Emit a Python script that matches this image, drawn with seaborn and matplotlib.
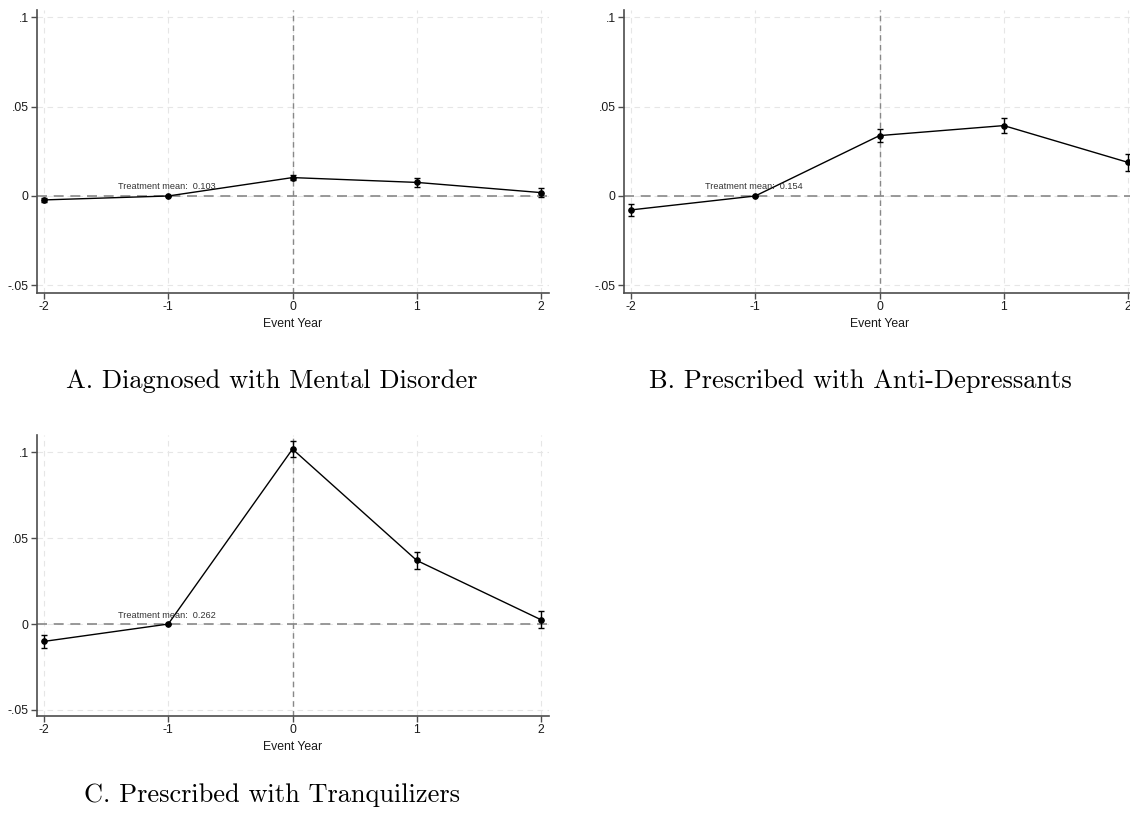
import numpy as np
import pandas as pd
import matplotlib
matplotlib.use("Agg")
import matplotlib.pyplot as plt
import seaborn as sns

# ---- data ----
event_years = [-2, -1, 0, 1, 2]
coef_a = [-0.0022, 0.0, 0.0103, 0.0076, 0.0019]
err_a = [0.0010, 0.0, 0.0015, 0.0023, 0.0025]
coef_b = [-0.0078, 0.0, 0.0338, 0.0394, 0.0188]
err_b = [0.0033, 0.0, 0.0036, 0.0042, 0.0046]
coef_c = [-0.0101, 0.0, 0.1018, 0.0370, 0.0025]
err_c = [0.0040, 0.0, 0.0047, 0.0048, 0.0049]
treat_means = ["0.103", "0.154", "0.262"]
titles = ["A. Diagnosed with Mental Disorder",
          "B. Prescribed with Anti-Depressants",
          "C. Prescribed with Tranquilizers"]
ytick_vals = [-0.05, 0, 0.05, 0.1]
ytick_labels = ["-.05", "0", ".05", ".1"]

sns.set_theme(style="white")
plt.rcParams["font.family"] = ["Liberation Sans", "DejaVu Sans"]

W, H = 1130, 816
fig = plt.figure(figsize=(W / 100, H / 100), dpi=100)

def ax_rect(left, right, top, bottom):
    return [left / W, 1 - bottom / H, (right - left) / W, (bottom - top) / H]

panels = [
    dict(rect=ax_rect(37, 549, 10, 293), coef=coef_a, err=err_a, ylim=(-0.0543, 0.1041),
         mean=treat_means[0], title=titles[0], tx=272, ty=381),
    dict(rect=ax_rect(624, 1136, 10, 293), coef=coef_b, err=err_b, ylim=(-0.0543, 0.1041),
         mean=treat_means[1], title=titles[1], tx=860, ty=381),
    dict(rect=ax_rect(37, 549, 435, 716), coef=coef_c, err=err_c, ylim=(-0.0535, 0.110),
         mean=treat_means[2], title=titles[2], tx=272, ty=795),
]

spine_col = "#4d4d4d"
for p in panels:
    ax = fig.add_axes(p["rect"])
    df = pd.DataFrame({"year": event_years, "coef": p["coef"], "err": p["err"]})
    # grid
    for xv in event_years:
        ax.axvline(xv, color="#e6e6e6", lw=0.8, ls=(0, (5, 4)), zorder=0)
    for yv in ytick_vals:
        ax.axhline(yv, color="#e6e6e6", lw=0.8, ls=(0, (5, 4)), zorder=0)
    # reference lines
    ax.axvline(0, color="#888888", lw=1.0, ls=(0, (4, 3)), zorder=1)
    ax.axhline(0, color="#888888", lw=1.2, ls=(0, (6, 4)), zorder=1)
    # error bars
    ax.errorbar(df["year"], df["coef"], yerr=df["err"], fmt="none", ecolor="black",
                elinewidth=1.0, capsize=2.2, capthick=1.0, zorder=3)
    sns.lineplot(data=df, x="year", y="coef", ax=ax, color="black", lw=1.0,
                 marker="o", markersize=4, markeredgecolor="black", zorder=4)
    ax.text(-1.404, 0.0052, "Treatment mean:  " + p["mean"], fontsize=6.6,
            color="#333333", va="center", ha="left", zorder=5)
    ax.set_xlim(-2.056, 2.064)
    ax.set_ylim(*p["ylim"])
    ax.set_xticks(event_years)
    ax.set_xticklabels([str(v) for v in event_years])
    ax.set_yticks(ytick_vals)
    ax.set_yticklabels(ytick_labels)
    ax.set_xlabel("Event Year", fontsize=8.8, color="#1a1a1a", labelpad=3)
    ax.set_ylabel("")
    for s in ["top", "right"]:
        ax.spines[s].set_visible(False)
    for s in ["left", "bottom"]:
        ax.spines[s].set_color(spine_col)
        ax.spines[s].set_linewidth(1.2)
    ax.tick_params(axis="both", which="major", length=4, width=1.0, color=spine_col,
                   labelsize=8.8, labelcolor="#1a1a1a", pad=2, direction="out",
                   bottom=True, left=True)
    ax.set_facecolor("white")
    fig.text(p["tx"] / W, 1 - p["ty"] / H, p["title"], family="cmr10", fontsize=19,
             ha="center", va="center", color="black")

fig.savefig("out.png", dpi=100, facecolor="white")
